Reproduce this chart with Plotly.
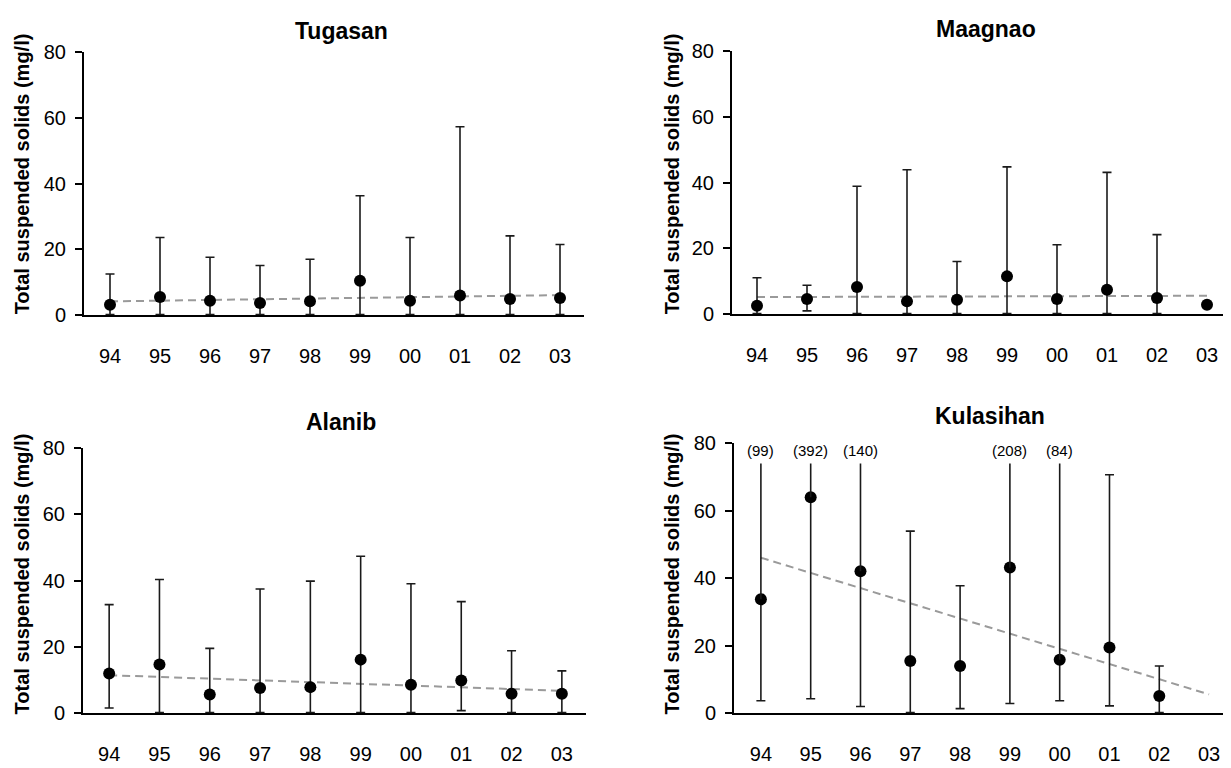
import plotly.graph_objects as go

# ---------------- data ----------------
years = ["94", "95", "96", "97", "98", "99", "00", "01", "02", "03"]

tugasan_mean = [3.2, 5.5, 4.4, 3.7, 4.2, 10.5, 4.4, 6.0, 4.9, 5.2]
tugasan_upper = [12.5, 23.6, 17.6, 15.1, 17.0, 36.3, 23.6, 57.3, 24.1, 21.5]
tugasan_lower = [0.2, 0.2, 0.2, 0.2, 0.2, 0.2, 0.2, 0.2, 0.2, 0.2]
tugasan_trend = [4.2, 6.1]

maagnao_mean = [2.6, 4.6, 8.3, 3.9, 4.4, 11.5, 4.6, 7.4, 4.9, 2.9]
maagnao_upper = [11.1, 8.8, 38.9, 43.9, 16.0, 44.8, 21.1, 43.1, 24.2, 3.3]
maagnao_lower = [0.2, 1.0, 0.2, 0.2, 0.2, 0.2, 0.2, 0.2, 0.2, 2.5]
maagnao_trend = [5.2, 5.6]

alanib_mean = [12.0, 14.7, 5.7, 7.6, 7.9, 16.2, 8.6, 9.9, 5.9, 5.9]
alanib_upper = [32.8, 40.4, 19.6, 37.5, 39.9, 47.4, 39.1, 33.7, 18.9, 12.8]
alanib_lower = [1.6, 0.2, 0.2, 0.2, 0.2, 0.2, 0.2, 0.8, 0.2, 0.2]
alanib_trend = [11.5, 6.8]

kulasihan_mean = [33.8, 64.0, 42.1, 15.5, 14.0, 43.2, 15.9, 19.5, 5.1, None]
kulasihan_upper = [99, 392, 140, 54.0, 37.8, 208, 84, 70.7, 14.0, None]
kulasihan_lower = [3.7, 4.3, 2.0, 0.2, 1.4, 2.9, 3.7, 2.2, 0.2, None]
kulasihan_trend = [46.1, 5.6]

titles = ["Tugasan", "Maagnao", "Alanib", "Kulasihan"]
y_title = "Total suspended solids (mg/l)"
y_ticks = [0, 20, 40, 60, 80]

# ---------------- styling / layout params ----------------
PAGE_W, PAGE_H = 1231, 768
OFF = 8                      # default body margin of the html page
W, H = PAGE_W - OFF, PAGE_H - OFF
FONT = "Liberation Sans, Arial, sans-serif"
Y_MAX = 80
CLIP = 74                    # where off-scale bars are cut
LABEL_Y = 78                 # height of the off-scale value labels


def px(x):
    return (x - OFF) / W


def py(y):
    return 1 - (y - OFF) / H


# plot-area page-pixel boxes: (left, right, top, bottom), x range
panels = [
    dict(box=(84, 584, 42, 313), xr=[-0.52, 9.48], title_xy=(341, 20), ytitle_xy=(22, 168)),
    dict(box=(732, 1231, 41, 312), xr=[-0.50, 9.48], title_xy=(986, 18), ytitle_xy=(672, 168)),
    dict(box=(83, 586, 450, 723), xr=[-0.52, 9.48], title_xy=(341, 423), ytitle_xy=(22, 580)),
    dict(box=(734, 1231, 445, 723), xr=[-0.54, 9.44], title_xy=(990, 417), ytitle_xy=(672, 580)),
]

data = [
    (tugasan_mean, tugasan_upper, tugasan_lower, tugasan_trend),
    (maagnao_mean, maagnao_upper, maagnao_lower, maagnao_trend),
    (alanib_mean, alanib_upper, alanib_lower, alanib_trend),
    (kulasihan_mean, kulasihan_upper, kulasihan_lower, kulasihan_trend),
]

fig = go.Figure()
layout = dict(
    width=W, height=H,
    margin=dict(l=0, r=0, t=0, b=0),
    paper_bgcolor="white", plot_bgcolor="white",
    showlegend=False,
    font=dict(family=FONT, color="black"),
)
annotations = []

for i, (p, (mean, upper, lower, trend)) in enumerate(zip(panels, data)):
    n = i + 1
    xa = "x" if n == 1 else f"x{n}"
    ya = "y" if n == 1 else f"y{n}"
    l, r, t, b = p["box"]
    layout["xaxis" if n == 1 else f"xaxis{n}"] = dict(
        domain=[px(l), min(px(r), 1.0)], range=p["xr"], type="category",
        categoryorder="array", categoryarray=years,
        anchor=ya, showline=True, linecolor="black", linewidth=2,
        ticks="", showgrid=False, zeroline=False,
        tickfont=dict(size=20, family=FONT, color="black"),
        ticklabelstandoff=22,
    )
    layout["yaxis" if n == 1 else f"yaxis{n}"] = dict(
        domain=[py(b), py(t)], range=[0, Y_MAX],
        tickvals=y_ticks, anchor=xa,
        showline=True, linecolor="black", linewidth=2,
        ticks="outside", ticklen=7, tickwidth=1.5, tickcolor="black",
        showgrid=False, zeroline=False,
        tickfont=dict(size=20, family=FONT, color="black"),
        ticklabelstandoff=5,
    )

    # trend line (regression) from first to last year
    fig.add_trace(go.Scatter(
        x=[years[0], years[-1]], y=trend, mode="lines",
        line=dict(color="#9a9a9a", width=2, dash="8px,5px"),
        xaxis=xa, yaxis=ya, hoverinfo="skip",
    ))

    err_up, err_dn = [], []
    clip_x, clip_y, clip_dn, clip_lbl = [], [], [], []
    for yr, m, u, lo in zip(years, mean, upper, lower):
        if m is None:
            err_up.append(None)
            err_dn.append(None)
            continue
        err_dn.append(m - lo)
        if u > Y_MAX:
            err_up.append(0)
            clip_x.append(yr)
            clip_y.append(CLIP)
            clip_dn.append(CLIP - m)
            clip_lbl.append(f"({u:g})")
        else:
            err_up.append(u - m)

    fig.add_trace(go.Scatter(
        x=years, y=mean, mode="markers",
        marker=dict(color="black", size=12),
        error_y=dict(type="data", symmetric=False, array=err_up, arrayminus=err_dn,
                     color="#1a1a1a", thickness=1.6, width=4.5),
        xaxis=xa, yaxis=ya, cliponaxis=False,
    ))

    if clip_x:
        fig.add_trace(go.Scatter(
            x=clip_x, y=clip_y, mode="markers",
            marker=dict(color="rgba(0,0,0,0)", size=1),
            error_y=dict(type="data", symmetric=False, array=[0] * len(clip_x),
                         arrayminus=clip_dn, color="#1a1a1a", thickness=1.6, width=0),
            xaxis=xa, yaxis=ya, hoverinfo="skip",
        ))
        for cx, lbl in zip(clip_x, clip_lbl):
            annotations.append(dict(
                x=years.index(cx), y=LABEL_Y, xref=xa, yref=ya, text=lbl, showarrow=False,
                font=dict(size=15, family=FONT, color="black"),
                xanchor="center", yanchor="middle",
            ))

    tx, ty = p["title_xy"]
    annotations.append(dict(
        x=px(tx), y=py(ty), xref="paper", yref="paper", text=f"<b>{titles[i]}</b>",
        showarrow=False, font=dict(size=23, family=FONT, color="black"),
        xanchor="center", yanchor="middle",
    ))
    yx, yy = p["ytitle_xy"]
    annotations.append(dict(
        x=px(yx), y=py(yy), xref="paper", yref="paper", text=f"<b>{y_title}</b>",
        showarrow=False, textangle=-90, font=dict(size=20, family=FONT, color="black"),
        xanchor="center", yanchor="middle",
    ))

layout["annotations"] = annotations
fig.update_layout(**layout)
fig.write_html("out.html")
